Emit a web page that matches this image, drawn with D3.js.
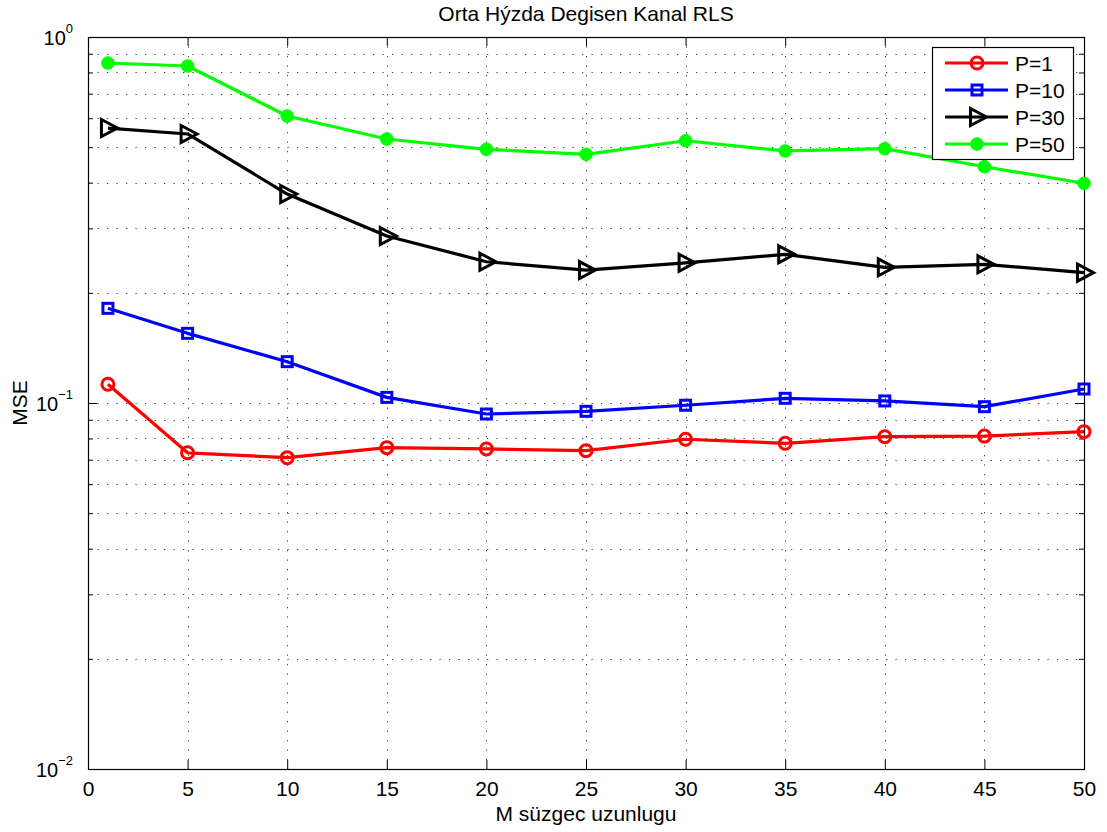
<!DOCTYPE html>
<html>
<head>
<meta charset="utf-8">
<script src="https://cdn.jsdelivr.net/npm/d3@7"></script>
<style>
  body { margin: 0; background: #fff; }
  text { font-family: "Liberation Sans", Arial, Helvetica, sans-serif; fill: #000; }
</style>
</head>
<body>
<script>
// filter length M (x axis)
var mValues = [1, 5, 10, 15, 20, 25, 30, 35, 40, 45, 50];

// MSE per P
var mseP1  = [0.1125, 0.0731, 0.0709, 0.0755, 0.0749, 0.0741, 0.0796, 0.0776, 0.0809, 0.0812, 0.0835];
var mseP10 = [0.1814, 0.1550, 0.1297, 0.1036, 0.0933, 0.0949, 0.0986, 0.1030, 0.1013, 0.0977, 0.1092];
var mseP30 = [0.5640, 0.5433, 0.3724, 0.2859, 0.2432, 0.2308, 0.2416, 0.2548, 0.2348, 0.2393, 0.2270];
var mseP50 = [0.8490, 0.8332, 0.6082, 0.5263, 0.4934, 0.4781, 0.5207, 0.4883, 0.4953, 0.4421, 0.3984];

var seriesNames = ["P=1", "P=10", "P=30", "P=50"];
var xTicks = [0, 5, 10, 15, 20, 25, 30, 35, 40, 45, 50];
var yDecades = [-2, -1, 0];

var W = 1107, H = 832;
var margin = { top: 37, right: 23, bottom: 63, left: 88 };
var width = W - margin.left - margin.right,
    height = H - margin.top - margin.bottom;
var FS = 21; // main font size

var svg = d3.select("body").append("svg")
    .attr("width", W)
    .attr("height", H);

var g = svg.append("g")
    .attr("transform", "translate(" + margin.left + "," + margin.top + ")");

var x = d3.scaleLinear().domain([0, 50]).range([0, width]);
var y = d3.scaleLog().domain([0.01, 1]).range([height, 0]);

// minor log positions 2..9 in each decade
var minorVals = [];
[0.01, 0.1].forEach(function(d) {
    for (var k = 2; k <= 9; k++) minorVals.push(d * k);
});
var majorVals = yDecades.map(function(e) { return Math.pow(10, e); });

// ---- grid ----
var grid = g.append("g").attr("class", "grid")
    .attr("stroke", "#444").attr("stroke-width", 1)
    .attr("stroke-dasharray", "1.3,8.2");

grid.selectAll("line.gx")
    .data(xTicks.slice(1, -1))
    .enter().append("line")
    .attr("x1", function(d) { return Math.round(x(d)) + 0.5; })
    .attr("x2", function(d) { return Math.round(x(d)) + 0.5; })
    .attr("y1", 0).attr("y2", height);

grid.selectAll("line.gy")
    .data(minorVals.concat([0.1]))
    .enter().append("line")
    .attr("x1", 0).attr("x2", width)
    .attr("y1", function(d) { return Math.round(y(d)) + 0.5; })
    .attr("y2", function(d) { return Math.round(y(d)) + 0.5; });

// ---- axes (ticks inward, mirrored on top/right) ----
var xAxisB = d3.axisBottom(x).tickValues(xTicks).tickSize(-9).tickPadding(12)
    .tickFormat(d3.format("d"));
var xAxisT = d3.axisTop(x).tickValues(xTicks).tickSize(-9).tickFormat("");
var yAxisL = d3.axisLeft(y).tickValues(majorVals).tickSize(-9).tickFormat("");
var yAxisR = d3.axisRight(y).tickValues(majorVals).tickSize(-9).tickFormat("");
var yMinorL = d3.axisLeft(y).tickValues(minorVals).tickSize(-5).tickFormat("");
var yMinorR = d3.axisRight(y).tickValues(minorVals).tickSize(-5).tickFormat("");

function styleAxis(sel) {
    sel.select(".domain").remove();
    sel.selectAll("line").attr("stroke", "#000").attr("stroke-width", 1);
    sel.selectAll("text").attr("font-size", FS)
        .attr("font-family", "Liberation Sans, Arial, sans-serif").attr("fill", "#000");
}

g.append("g").attr("transform", "translate(0," + height + ")").call(xAxisB).call(styleAxis);
g.append("g").call(xAxisT).call(styleAxis);
g.append("g").call(yAxisL).call(styleAxis);
g.append("g").attr("transform", "translate(" + width + ",0)").call(yAxisR).call(styleAxis);
g.append("g").call(yMinorL).call(styleAxis);
g.append("g").attr("transform", "translate(" + width + ",0)").call(yMinorR).call(styleAxis);

// y tick labels 10^e
var yl = g.append("g").selectAll("text.ylab")
    .data(yDecades)
    .enter().append("text")
    .attr("x", -15)
    .attr("y", function(d) { return y(Math.pow(10, d)) + 8; })
    .attr("text-anchor", "end")
    .attr("font-size", 20);
yl.append("tspan").text("10");
yl.append("tspan")
    .attr("dy", -12)
    .attr("font-size", 13)
    .text(function(d) { return d === 0 ? "0" : "\u2212" + (-d); });

// box
g.append("rect")
    .attr("x", 0.5).attr("y", 0.5)
    .attr("width", width).attr("height", height)
    .attr("fill", "none").attr("stroke", "#000").attr("stroke-width", 1.2);

// ---- series ----
var series = [
    { name: seriesNames[0], values: mseP1,  color: "#ff0000", marker: "circle" },
    { name: seriesNames[1], values: mseP10, color: "#0000ff", marker: "square" },
    { name: seriesNames[2], values: mseP30, color: "#000000", marker: "triangle" },
    { name: seriesNames[3], values: mseP50, color: "#00ff00", marker: "dot" }
];

var line = d3.line()
    .x(function(d) { return x(d.m); })
    .y(function(d) { return y(d.v); });

function drawMarker(sel, s) {
    if (s.marker === "circle") {
        sel.append("circle").attr("r", 6)
            .attr("fill", "none").attr("stroke", s.color).attr("stroke-width", 3);
    } else if (s.marker === "square") {
        sel.append("rect").attr("x", -5).attr("y", -5)
            .attr("width", 10).attr("height", 10)
            .attr("fill", "none").attr("stroke", s.color).attr("stroke-width", 3);
    } else if (s.marker === "triangle") {
        sel.append("path").attr("d", "M-6.5,-8.5L9.5,0L-6.5,8.5Z")
            .attr("fill", "none").attr("stroke", s.color).attr("stroke-width", 3)
            .attr("stroke-linejoin", "miter");
    } else {
        sel.append("circle").attr("r", 6.3)
            .attr("fill", s.color).attr("stroke", s.color).attr("stroke-width", 1);
    }
}

series.forEach(function(s) {
    var pts = mValues.map(function(m, i) { return { m: m, v: s.values[i] }; });
    var sg = g.append("g");
    sg.append("path")
        .datum(pts)
        .attr("d", line)
        .attr("fill", "none")
        .attr("stroke", s.color)
        .attr("stroke-width", 3.2)
        .attr("stroke-linejoin", "round");
    sg.selectAll("g.mk")
        .data(pts)
        .enter().append("g")
        .attr("transform", function(d) { return "translate(" + x(d.m) + "," + y(d.v) + ")"; })
        .each(function() { drawMarker(d3.select(this), s); });
});

// ---- legend ----
var lg = svg.append("g").attr("transform", "translate(932,47)");
lg.append("rect")
    .attr("x", 0.5).attr("y", 0.5)
    .attr("width", 141).attr("height", 112)
    .attr("fill", "#fff").attr("stroke", "#000").attr("stroke-width", 1.2);

var rowY = d3.scalePoint().domain(seriesNames).range([16, 97]);
series.forEach(function(s) {
    var row = lg.append("g").attr("transform", "translate(0," + rowY(s.name) + ")");
    row.append("line").attr("x1", 13).attr("x2", 76)
        .attr("stroke", s.color).attr("stroke-width", 3.2);
    drawMarker(row.append("g").attr("transform", "translate(45,0)"), s);
    row.append("text").attr("x", 83).attr("y", 8)
        .attr("font-size", FS).text(s.name);
});

// ---- titles ----
svg.append("text")
    .attr("x", margin.left + width / 2).attr("y", 21)
    .attr("text-anchor", "middle").attr("font-size", FS)
    .text("Orta Hýzda Degisen Kanal RLS");

svg.append("text")
    .attr("x", margin.left + width / 2).attr("y", 821)
    .attr("text-anchor", "middle").attr("font-size", FS)
    .text("M süzgec uzunlugu");

svg.append("text")
    .attr("transform", "translate(27," + (margin.top + height / 2) + ") rotate(-90)")
    .attr("text-anchor", "middle").attr("font-size", FS)
    .text("MSE");
</script>
</body>
</html>
